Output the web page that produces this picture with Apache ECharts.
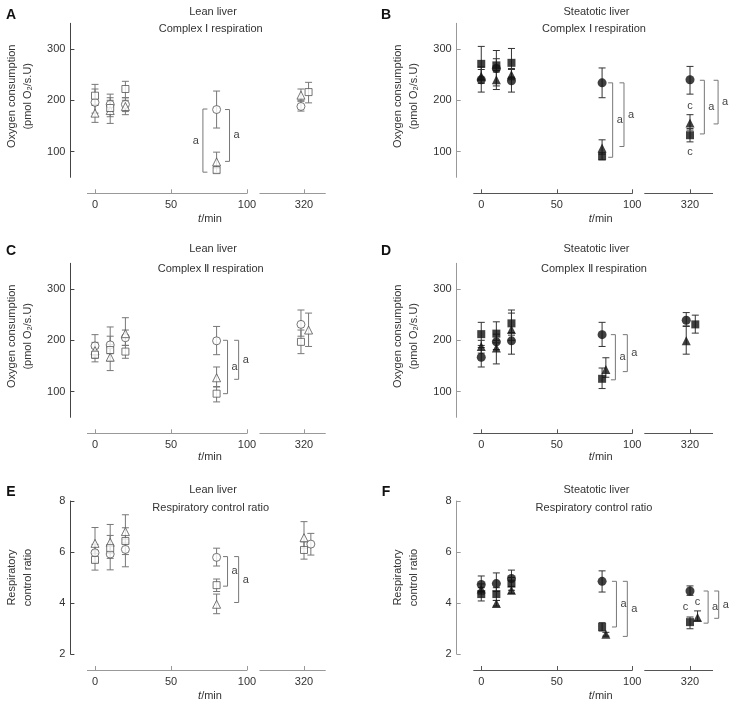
<!DOCTYPE html>
<html>
<head>
<meta charset="utf-8">
<script src="https://cdn.jsdelivr.net/npm/echarts@6/dist/echarts.min.js"></script>
<style>
html, body { margin: 0; padding: 0; background: #fff; }
#main { width: 748px; height: 707px; }
</style>
</head>
<body>
<div id="main"></div>
<script>
// rows: [t (min), mean, lower error, upper error]
// A - lean liver, complex I
var A_circle   = [[0, 196, 175, 222], [10, 192, 178, 212], [20, 192, 178, 205], [80, 182, 146, 218], [318, 188, 179, 200]];
var A_triangle = [[0, 175, 157, 192], [10, 180, 155, 200], [20, 188, 172, 200], [80, 80, 68, 99], [318, 210, 198, 222]];
var A_square   = [[0, 209, 190, 231], [10, 185, 168, 205], [20, 222, 205, 237], [80, 64, 59, 70], [323, 216, 195, 235]];
// B - steatotic liver, complex I
var B_circle   = [[0, 240, 216, 265], [10, 262, 228, 297], [20, 238, 216, 260], [80, 234, 205, 263], [320, 240, 212, 266]];
var B_triangle = [[0, 247, 233, 260], [10, 240, 221, 258], [20, 250, 240, 262], [80, 107, 95, 123], [320, 156, 142, 172]];
var B_square   = [[0, 271, 240, 305], [10, 268, 255, 281], [20, 273, 245, 301], [80, 91, 84, 98], [320, 132, 119, 145]];
// C - lean liver, complex II
var C_circle   = [[0, 189, 170, 211], [10, 191, 174, 208], [20, 205, 190, 220], [80, 199, 172, 227], [318, 231, 208, 259]];
var C_triangle = [[0, 180, 165, 196], [10, 167, 141, 192], [20, 213, 190, 244], [80, 127, 110, 148], [323, 220, 188, 253]];
var C_square   = [[0, 172, 158, 185], [10, 181, 160, 226], [20, 178, 165, 190], [80, 96, 80, 109], [318, 197, 174, 220]];
// D - steatotic liver, complex II
var D_circle   = [[0, 167, 148, 186], [10, 197, 182, 212], [20, 199, 173, 215], [80, 211, 188, 235], [317.5, 239, 227, 254]];
var D_triangle = [[0, 188, 175, 200], [10, 185, 154, 200], [20, 221, 200, 253], [82.5, 143, 128, 166], [317.5, 199, 173, 228]];
var D_square   = [[0, 212, 190, 235], [10, 213, 195, 236], [20, 233, 210, 259], [80, 125, 106, 146], [323.5, 231, 214, 249]];
// E - lean liver, RCR
var E_circle   = [[0, 5.97, 5.6, 6.3], [10, 5.92, 5.3, 6.3], [20, 6.1, 5.42, 6.5], [80, 5.79, 5.45, 6.15], [324.5, 6.31, 5.88, 6.73]];
var E_triangle = [[0, 6.34, 5.95, 6.96], [10, 6.38, 5.95, 7.08], [20, 6.8, 6.35, 7.46], [80, 3.95, 3.58, 4.35], [320, 6.56, 6.15, 7.19]];
var E_square   = [[0, 5.69, 5.29, 6.05], [10, 6.15, 5.75, 6.65], [20, 6.43, 5.9, 6.95], [80, 4.7, 4.45, 4.94], [320, 6.08, 5.72, 6.4]];
// F - steatotic liver, RCR
var F_circle   = [[0, 4.73, 4.45, 5.06], [10, 4.76, 4.45, 5.18], [20, 4.96, 4.65, 5.29], [80, 4.85, 4.43, 5.26], [320, 4.47, 4.3, 4.67]];
var F_triangle = [[0, 4.55, 4.35, 4.75], [10, 3.98, 3.88, 4.1], [20, 4.5, 4.38, 4.65], [82.5, 2.77, 2.7, 2.85], [325, 3.43, 3.3, 3.69]];
var F_square   = [[0, 4.35, 4.08, 4.6], [10, 4.35, 4.1, 4.6], [20, 4.76, 4.5, 5.0], [80, 3.06, 2.9, 3.23], [320, 3.25, 2.99, 3.45]];

// brackets: [t, y from, y to, side (1 = label right, -1 = label left)]
var A_brackets = [[71, 183, 60, -1], [88.5, 182, 81, 1]];
var B_brackets = [[87, 234, 89, 1], [94.5, 234, 110, 1], [329.5, 239, 134.5, 1], [338.6, 239, 154, 1]];
var C_brackets = [[87.2, 200, 96, 1], [94.5, 200, 124, 1]];
var D_brackets = [[88.8, 211, 123, 1], [96.7, 211, 139, 1]];
var E_brackets = [[87.2, 5.82, 4.66, 1], [94.5, 5.82, 4.02, 1]];
var F_brackets = [[89.5, 4.85, 3.06, 1], [96.7, 4.85, 2.69, 1], [332, 4.47, 3.21, 1], [339, 4.47, 3.4, 1]];
// "c" marks: [t, y]
var B_marks = [[320, 188], [320, 99]];
var F_marks = [[317, 3.84], [325, 4.04]];

var xTicksLeft = [0, 50, 100];
var xTicksRight = [320];
var o2Ticks = [100, 200, 300];

var FONT = '"Liberation Sans", Arial, sans-serif';

var panels = [
    { id: 'A', col: 0, row: 0, t1: 'Lean liver', t2: 'Complex Ⅰ respiration', yn: ['Oxygen consumption', '(pmol O₂/s.U)'], filled: false, groups: [A_circle, A_triangle, A_square], br: A_brackets, mk: [] },
    { id: 'B', col: 1, row: 0, t1: 'Steatotic liver', t2: 'Complex Ⅰ respiration', yn: ['Oxygen consumption', '(pmol O₂/s.U)'], filled: true, groups: [B_circle, B_triangle, B_square], br: B_brackets, mk: B_marks },
    { id: 'C', col: 0, row: 1, t1: 'Lean liver', t2: 'Complex Ⅱ respiration', yn: ['Oxygen consumption', '(pmol O₂/s.U)'], filled: false, groups: [C_circle, C_triangle, C_square], br: C_brackets, mk: [] },
    { id: 'D', col: 1, row: 1, t1: 'Steatotic liver', t2: 'Complex Ⅱ respiration', yn: ['Oxygen consumption', '(pmol O₂/s.U)'], filled: true, groups: [D_circle, D_triangle, D_square], br: D_brackets, mk: [] },
    { id: 'E', col: 0, row: 2, t1: 'Lean liver', t2: 'Respiratory control ratio', yn: ['Respiratory', 'control ratio'], filled: false, groups: [E_circle, E_triangle, E_square], br: E_brackets, mk: [] },
    { id: 'F', col: 1, row: 2, t1: 'Steatotic liver', t2: 'Respiratory control ratio', yn: ['Respiratory', 'control ratio'], filled: true, groups: [F_circle, F_triangle, F_square], br: F_brackets, mk: F_marks }
];

// layout of the two columns and three rows
var cols = [
    { l0: 87.4, w0: 159.6, l1: 259.9, w1: 65.4, rr: [291, 334], tx: 210, t1x: 213, t2x: 210.7, lx: 11, n1: 12.3, n2: 28.3, yc: '#444', xc: '#999' },
    { l0: 473.7, w0: 158.6, l1: 644.7, w1: 67.95, rr: [290, 335], tx: 600.7, t1x: 596.5, t2x: 594, lx: 386, n1: 398, n2: 414, yc: '#999', xc: '#555' }
];
var rows = [
    { top: 23.3, h: 154, yr: [50, 350], xn: 219, lt: 15, t1: 11.7, t2: 29.3, nc: -4 },
    { top: 263.3, h: 154, yr: [50, 350], xn: 456.7, lt: 251, t1: 249.3, t2: 268.7, nc: -4 },
    { top: 501, h: 153, yr: [2, 8], xn: 696, lt: 492, t1: 490.3, t2: 507.7, nc: 0 }
];

var shapes = ['circle', 'triangle', 'rect'];
var openSizes = [8, 8, 7];
var filledSizes = [9, 9, 8];

function errBar(color) {
    return function (params, api) {
        var x = api.value(0);
        var p1 = api.coord([x, api.value(2)]);
        var p2 = api.coord([x, api.value(3)]);
        var w = 3.5;
        var st = { stroke: color, lineWidth: 1 };
        return {
            type: 'group',
            children: [
                { type: 'line', shape: { x1: p1[0], y1: p1[1], x2: p2[0], y2: p2[1] }, style: st },
                { type: 'line', shape: { x1: p1[0] - w, y1: p1[1], x2: p1[0] + w, y2: p1[1] }, style: st },
                { type: 'line', shape: { x1: p2[0] - w, y1: p2[1], x2: p2[0] + w, y2: p2[1] }, style: st }
            ]
        };
    };
}

function bracketItem(params, api) {
    var x = api.value(0), dir = api.value(3);
    var a = api.coord([x, api.value(1)]);
    var b = api.coord([x, api.value(2)]);
    var cap = 4.5 * dir;
    return {
        type: 'group',
        children: [
            { type: 'polyline', shape: { points: [[a[0] - cap, a[1]], [a[0], a[1]], [b[0], b[1]], [b[0] - cap, b[1]]] }, style: { stroke: '#777', lineWidth: 1, fill: 'none' } },
            { type: 'text', style: { text: 'a', x: a[0] + dir * 4, y: (a[1] + b[1]) / 2, align: dir > 0 ? 'left' : 'right', verticalAlign: 'middle', font: '11px ' + FONT, fill: '#444' } }
        ]
    };
}

function markItem(params, api) {
    var p = api.coord([api.value(0), api.value(1)]);
    return { type: 'text', style: { text: 'c', x: p[0], y: p[1], align: 'center', verticalAlign: 'middle', font: '11px ' + FONT, fill: '#444' } };
}

var grids = [], xAxes = [], yAxes = [], series = [], graphics = [];

panels.forEach(function (p, i) {
    var c = cols[p.col], r = rows[p.row];
    var gL = i * 2, gR = i * 2 + 1;
    grids.push({ left: c.l0, top: r.top, width: c.w0, height: r.h, outerBoundsMode: 'none' });
    grids.push({ left: c.l1, top: r.top, width: c.w1, height: r.h, outerBoundsMode: 'none' });

    var xLine = { onZero: false, lineStyle: { color: c.xc, width: 1 } };
    var lbl = { fontSize: 11, fontFamily: FONT, color: '#333', margin: 6 };
    xAxes.push({
        gridIndex: gL, type: 'value', min: -5, max: 100, offset: 16,
        axisLine: xLine, splitLine: { show: false },
        axisTick: { inside: true, length: 4, lineStyle: { color: c.xc }, customValues: xTicksLeft },
        axisLabel: Object.assign({ customValues: xTicksLeft }, lbl)
    });
    xAxes.push({
        gridIndex: gR, type: 'value', min: c.rr[0], max: c.rr[1], offset: 16,
        axisLine: xLine, splitLine: { show: false },
        axisTick: { inside: true, length: 4, lineStyle: { color: c.xc }, customValues: xTicksRight },
        axisLabel: Object.assign({ customValues: xTicksRight }, lbl)
    });

    var yTick = { inside: true, length: 4, lineStyle: { color: c.yc } };
    var yLbl = { fontSize: 11, fontFamily: FONT, color: '#333', margin: 5 };
    var yAx = {
        gridIndex: gL, type: 'value', min: r.yr[0], max: r.yr[1], offset: 17,
        axisLine: { show: true, onZero: false, lineStyle: { color: c.yc, width: 1 } },
        splitLine: { show: false }, axisTick: yTick, axisLabel: yLbl
    };
    if (p.row < 2) {
        yAx.axisTick = Object.assign({ customValues: o2Ticks }, yTick);
        yAx.axisLabel = Object.assign({ customValues: o2Ticks }, yLbl);
    } else {
        yAx.interval = 2;
    }
    yAxes.push(yAx);
    yAxes.push({ gridIndex: gR, type: 'value', min: r.yr[0], max: r.yr[1], show: false, axisLine: { onZero: false }, splitLine: { show: false } });

    p.groups.forEach(function (g, k) {
        [gL, gR].forEach(function (gi, side) {
            var d = g.filter(function (v) { return side ? v[0] > 200 : v[0] <= 200; });
            series.push({
                type: 'custom', xAxisIndex: gi, yAxisIndex: gi, clip: false, silent: true, z: 2,
                encode: { x: 0, y: [2, 3] }, renderItem: errBar(p.filled ? '#333' : '#777'), data: d
            });
            series.push({
                type: 'scatter', xAxisIndex: gi, yAxisIndex: gi, silent: true, z: 3,
                symbol: shapes[k], symbolSize: p.filled ? filledSizes[k] : openSizes[k], data: d,
                itemStyle: p.filled ? { color: '#111' } : { color: '#fff', borderColor: '#555', borderWidth: 1 }
            });
        });
    });

    [gL, gR].forEach(function (gi, side) {
        var bd = p.br.filter(function (v) { return side ? v[0] > 200 : v[0] <= 200; });
        if (bd.length) {
            series.push({ type: 'custom', xAxisIndex: gi, yAxisIndex: gi, clip: false, silent: true, z: 4, encode: { x: 0, y: [1, 2] }, renderItem: bracketItem, data: bd });
        }
        var md = p.mk.filter(function (v) { return side ? v[0] > 200 : v[0] <= 200; });
        if (md.length) {
            series.push({ type: 'custom', xAxisIndex: gi, yAxisIndex: gi, clip: false, silent: true, z: 4, encode: { x: 0, y: 1 }, renderItem: markItem, data: md });
        }
    });

    // panel letter, titles, axis names
    var yc = r.top + r.h / 2 + r.nc;
    graphics.push(
        { type: 'text', x: c.lx, y: r.lt, style: { text: p.id, font: 'bold 14px ' + FONT, fill: '#111', align: 'center', verticalAlign: 'middle' } },
        { type: 'text', x: c.t1x, y: r.t1, style: { text: p.t1, font: '11px ' + FONT, fill: '#333', align: 'center', verticalAlign: 'middle' } },
        { type: 'text', x: c.t2x, y: r.t2, style: { text: p.t2, font: '11px ' + FONT, fill: '#333', align: 'center', verticalAlign: 'middle' } },
        { type: 'text', x: c.n1, y: yc, rotation: Math.PI / 2, style: { text: p.yn[0], font: '11px ' + FONT, fill: '#333', align: 'center', verticalAlign: 'middle' } },
        { type: 'text', x: c.n2, y: yc, rotation: Math.PI / 2, style: { text: p.yn[1], font: '11px ' + FONT, fill: '#333', align: 'center', verticalAlign: 'middle' } },
        { type: 'text', x: c.tx, y: r.xn, style: { text: '{i|t}/min', font: '11px ' + FONT, fill: '#333', align: 'center', verticalAlign: 'middle', rich: { i: { fontStyle: 'italic', fontSize: 11, fontFamily: FONT, fill: '#333' } } } }
    );
});

var chart = echarts.init(document.getElementById('main'));
chart.setOption({
    animation: false,
    backgroundColor: '#fff',
    grid: grids,
    xAxis: xAxes,
    yAxis: yAxes,
    series: series,
    graphic: graphics
});
</script>
</body>
</html>
